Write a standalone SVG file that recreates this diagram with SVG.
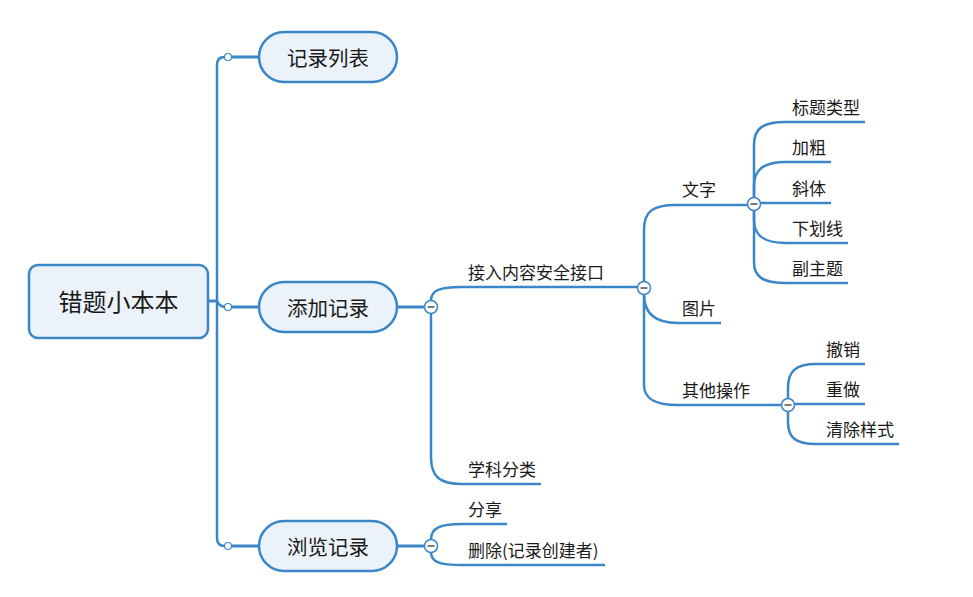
<svg xmlns="http://www.w3.org/2000/svg" width="973" height="597" viewBox="0 0 973 597">
<style>
.ln{fill:none;stroke:#3A86C8;stroke-width:2.5;stroke-linecap:butt}
.th{stroke-width:3}
.nd{fill:#EBF2F9;stroke:#3A86C8;stroke-width:2.5}
.t{font-family:"Noto Sans CJK SC","Noto Sans",sans-serif;fill:#1a1a1a}
.tn{font-size:20.5px;text-anchor:middle}
.tl{font-size:17px}
.cc{fill:#fff;stroke:#3A86C8;stroke-width:1.5}
.sc{fill:#fff;stroke:#3A86C8;stroke-width:1.2}
.mn{stroke:#333;stroke-width:1.3}
</style>
<rect width="973" height="597" fill="#fff"/>
<g id="connectors">
<path class="ln th" d="M208,301 L217,301"/>
<path class="ln" d="M224.5,57 Q217,57 217,65 L217,538 Q217,546 224.5,546"/>
<path class="ln" d="M217,301 Q219,306 224.5,307"/>
<path class="ln th" d="M231.5,57 L259,57 M231.5,307 L259,307 M231.5,546 L259,546"/>
<path class="ln th" d="M397,307 L424.5,307 M397,546 L424.5,546"/>
<path class="ln" d="M431,300.5 C431,290 440,287 462,287 L637.5,287"/>
<path class="ln" d="M431,313.5 L431,457 C431,477 440,484 462,484 L541,484"/>
<path class="ln" d="M431,539.5 C431,528 440,524 462,524 L507,524"/>
<path class="ln" d="M431,552.5 C431,562 440,565 462,565 L605,565"/>
<path class="ln" d="M644,281.5 L644,230 C644,211 653,205 676,205 L747.5,205"/>
<path class="ln" d="M644,294.5 C644,313 655,323 678,323 L721,323"/>
<path class="ln" d="M644,294.5 L644,385 C644,399 655,405 678,405 L781.5,405"/>
<path class="ln" d="M754,197.5 L754,145 C754,128 763,122 786,122 L865,122"/>
<path class="ln" d="M754,197.5 L754,186 C754,170 763,162 786,162 L831,162"/>
<path class="ln" d="M760.5,203 L831,203"/>
<path class="ln" d="M754,210.5 L754,220 C754,235 763,243 786,243 L848,243"/>
<path class="ln" d="M754,210.5 L754,262 C754,277 763,283 786,283 L848,283"/>
<path class="ln" d="M788,398.5 L788,388 C788,371 796,364 816,364 L865,364"/>
<path class="ln" d="M794.5,404 L865,404"/>
<path class="ln" d="M788,411.5 L788,422 C788,438 796,444 816,444 L899,444"/>
<circle class="sc" cx="228" cy="57" r="3.5"/>
<circle class="sc" cx="228" cy="307" r="3.5"/>
<circle class="sc" cx="228" cy="546" r="3.5"/>
</g>
<g id="root">
<rect class="nd" x="29" y="265" width="179" height="73" rx="9"/>
<text class="t" x="118.5" y="311" font-size="24" text-anchor="middle">错题小本本</text>
</g>
<g id="n-jilu-liebiao">
<rect class="nd" x="259" y="32" width="138" height="50" rx="25"/>
<text class="t tn" x="328" y="65.5">记录列表</text>
</g>
<g id="n-tianjia">
<rect class="nd" x="259" y="282" width="138" height="50" rx="25"/>
<text class="t tn" x="328" y="315.5">添加记录</text>
<circle class="cc" cx="431" cy="307" r="6.5"/><path class="mn" d="M427.5,307 L434.5,307"/>
</g>
<g id="n-liulan">
<rect class="nd" x="259" y="521" width="138" height="50" rx="25"/>
<text class="t tn" x="328" y="554.5">浏览记录</text>
<circle class="cc" cx="431" cy="546" r="6.5"/><path class="mn" d="M427.5,546 L434.5,546"/>
</g>
<g id="n-jieru">
<text class="t tl" x="468" y="279">接入内容安全接口</text>
<circle class="cc" cx="644" cy="288" r="6.5"/><path class="mn" d="M640.5,288 L647.5,288"/>
</g>
<g id="n-xueke"><text class="t tl" x="468" y="476">学科分类</text></g>
<g id="n-fenxiang"><text class="t tl" x="468" y="516">分享</text></g>
<g id="n-shanchu"><text class="t tl" x="468" y="557">删除(记录创建者)</text></g>
<g id="n-wenzi">
<text class="t tl" x="682" y="196">文字</text>
<circle class="cc" cx="754" cy="204" r="6.5"/><path class="mn" d="M750.5,204 L757.5,204"/>
</g>
<g id="n-tupian"><text class="t tl" x="682" y="315">图片</text></g>
<g id="n-qita">
<text class="t tl" x="682" y="397">其他操作</text>
<circle class="cc" cx="788" cy="405" r="6.5"/><path class="mn" d="M784.5,405 L791.5,405"/>
</g>
<g id="n-biaoti"><text class="t tl" x="792" y="114">标题类型</text></g>
<g id="n-jiacu"><text class="t tl" x="792" y="154">加粗</text></g>
<g id="n-xieti"><text class="t tl" x="792" y="195">斜体</text></g>
<g id="n-xiahuaxian"><text class="t tl" x="792" y="235">下划线</text></g>
<g id="n-fuzhuti"><text class="t tl" x="792" y="275">副主题</text></g>
<g id="n-chexiao"><text class="t tl" x="826" y="356">撤销</text></g>
<g id="n-chongzuo"><text class="t tl" x="826" y="396">重做</text></g>
<g id="n-qingchu"><text class="t tl" x="826" y="436">清除样式</text></g>
</svg>
